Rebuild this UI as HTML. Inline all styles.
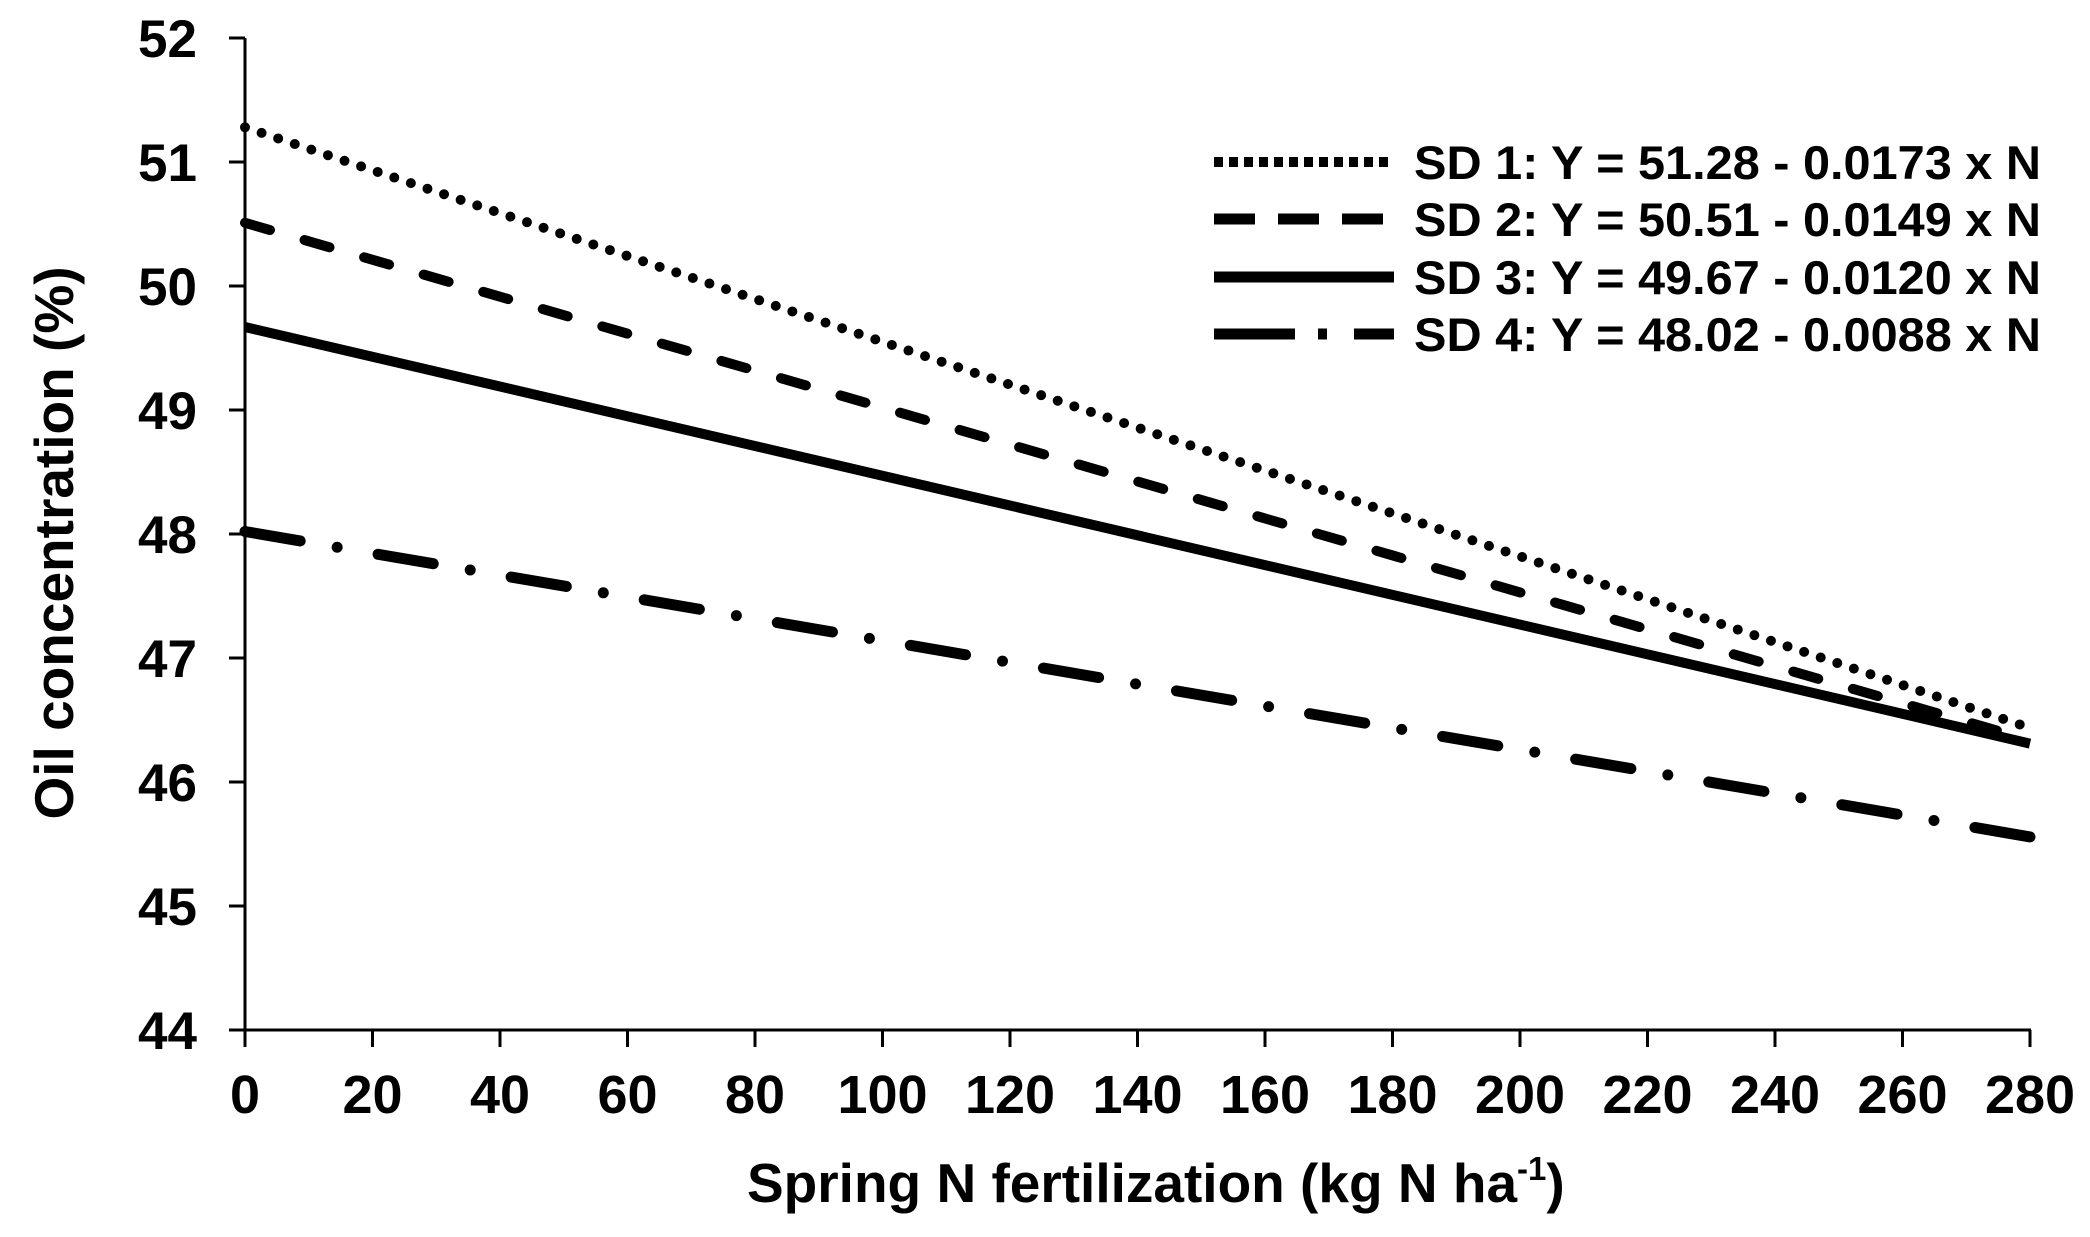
<!DOCTYPE html>
<html><head><meta charset="utf-8"><style>html,body{margin:0;padding:0;background:#fff}svg{display:block}</style></head>
<body>
<svg width="2090" height="1237" viewBox="0 0 2090 1237" xmlns="http://www.w3.org/2000/svg" font-family="Liberation Sans, Arial, sans-serif" font-weight="bold">
<rect width="2090" height="1237" fill="#fff"/>
<g stroke="#000" stroke-width="3" fill="none">
<line x1="245" y1="38" x2="245" y2="1030"/>
<line x1="229" y1="1030" x2="2031" y2="1030"/>
<line x1="229" y1="38" x2="245" y2="38"/>
<line x1="229" y1="162" x2="245" y2="162"/>
<line x1="229" y1="286" x2="245" y2="286"/>
<line x1="229" y1="410" x2="245" y2="410"/>
<line x1="229" y1="534" x2="245" y2="534"/>
<line x1="229" y1="658" x2="245" y2="658"/>
<line x1="229" y1="782" x2="245" y2="782"/>
<line x1="229" y1="906" x2="245" y2="906"/>
<line x1="245" y1="1030" x2="245" y2="1047"/>
<line x1="372.5" y1="1030" x2="372.5" y2="1047"/>
<line x1="500" y1="1030" x2="500" y2="1047"/>
<line x1="627.5" y1="1030" x2="627.5" y2="1047"/>
<line x1="755" y1="1030" x2="755" y2="1047"/>
<line x1="882.5" y1="1030" x2="882.5" y2="1047"/>
<line x1="1010" y1="1030" x2="1010" y2="1047"/>
<line x1="1137.5" y1="1030" x2="1137.5" y2="1047"/>
<line x1="1265" y1="1030" x2="1265" y2="1047"/>
<line x1="1392.5" y1="1030" x2="1392.5" y2="1047"/>
<line x1="1520" y1="1030" x2="1520" y2="1047"/>
<line x1="1647.5" y1="1030" x2="1647.5" y2="1047"/>
<line x1="1775" y1="1030" x2="1775" y2="1047"/>
<line x1="1902.5" y1="1030" x2="1902.5" y2="1047"/>
<line x1="2030" y1="1030" x2="2030" y2="1047"/>
</g>
<g font-size="53" text-anchor="end" fill="#000">
<text x="197" y="57">52</text>
<text x="197" y="181">51</text>
<text x="197" y="305">50</text>
<text x="197" y="429">49</text>
<text x="197" y="553">48</text>
<text x="197" y="677">47</text>
<text x="197" y="801">46</text>
<text x="197" y="925">45</text>
<text x="197" y="1049">44</text>
</g>
<g font-size="54" text-anchor="middle" fill="#000">
<text x="245" y="1113">0</text>
<text x="372.5" y="1113">20</text>
<text x="500" y="1113">40</text>
<text x="627.5" y="1113">60</text>
<text x="755" y="1113">80</text>
<text x="882.5" y="1113">100</text>
<text x="1010" y="1113">120</text>
<text x="1137.5" y="1113">140</text>
<text x="1265" y="1113">160</text>
<text x="1392.5" y="1113">180</text>
<text x="1520" y="1113">200</text>
<text x="1647.5" y="1113">220</text>
<text x="1775" y="1113">240</text>
<text x="1902.5" y="1113">260</text>
<text x="2030" y="1113">280</text>
</g>
<text x="747" y="1202" font-size="55">Spring N fertilization (kg N ha<tspan font-size="33" dy="-22">-1</tspan><tspan dy="22">)</tspan></text>
<text transform="translate(73,543) rotate(-90)" font-size="55" text-anchor="middle">Oil concentration (%)</text>
<g fill="none" stroke="#000" stroke-linecap="round">
<line x1="245" y1="127.3" x2="2030" y2="727.9" stroke-width="10" stroke-dasharray="0 17.5"/>
<line x1="245" y1="222.8" x2="2030" y2="740.2" stroke-width="10" stroke-dasharray="26 36"/>
<line x1="245" y1="327" x2="2030" y2="743.6" stroke-width="10" stroke-linecap="butt"/>
<line x1="245" y1="531.5" x2="2030" y2="836.9" stroke-width="11" stroke-dasharray="56 37.5 0 41.5"/>
</g>
<g fill="none" stroke="#000">
<line x1="1214" y1="162" x2="1394" y2="162" stroke-width="10" stroke-dasharray="9 6"/>
<line x1="1214" y1="219" x2="1394" y2="219" stroke-width="11" stroke-dasharray="41 23"/>
<line x1="1214" y1="277" x2="1394" y2="277" stroke-width="11"/>
<line x1="1214" y1="334" x2="1394" y2="334" stroke-width="11" stroke-dasharray="81 23 9 27 40"/>
</g>
<g font-size="47" fill="#000">
<text x="1414" y="179" textLength="627" lengthAdjust="spacingAndGlyphs">SD 1: Y = 51.28 - 0.0173 x N</text>
<text x="1414" y="236" textLength="627" lengthAdjust="spacingAndGlyphs">SD 2: Y = 50.51 - 0.0149 x N</text>
<text x="1414" y="294" textLength="627" lengthAdjust="spacingAndGlyphs">SD 3: Y = 49.67 - 0.0120 x N</text>
<text x="1414" y="351" textLength="627" lengthAdjust="spacingAndGlyphs">SD 4: Y = 48.02 - 0.0088 x N</text>
</g>
</svg>
</body></html>
